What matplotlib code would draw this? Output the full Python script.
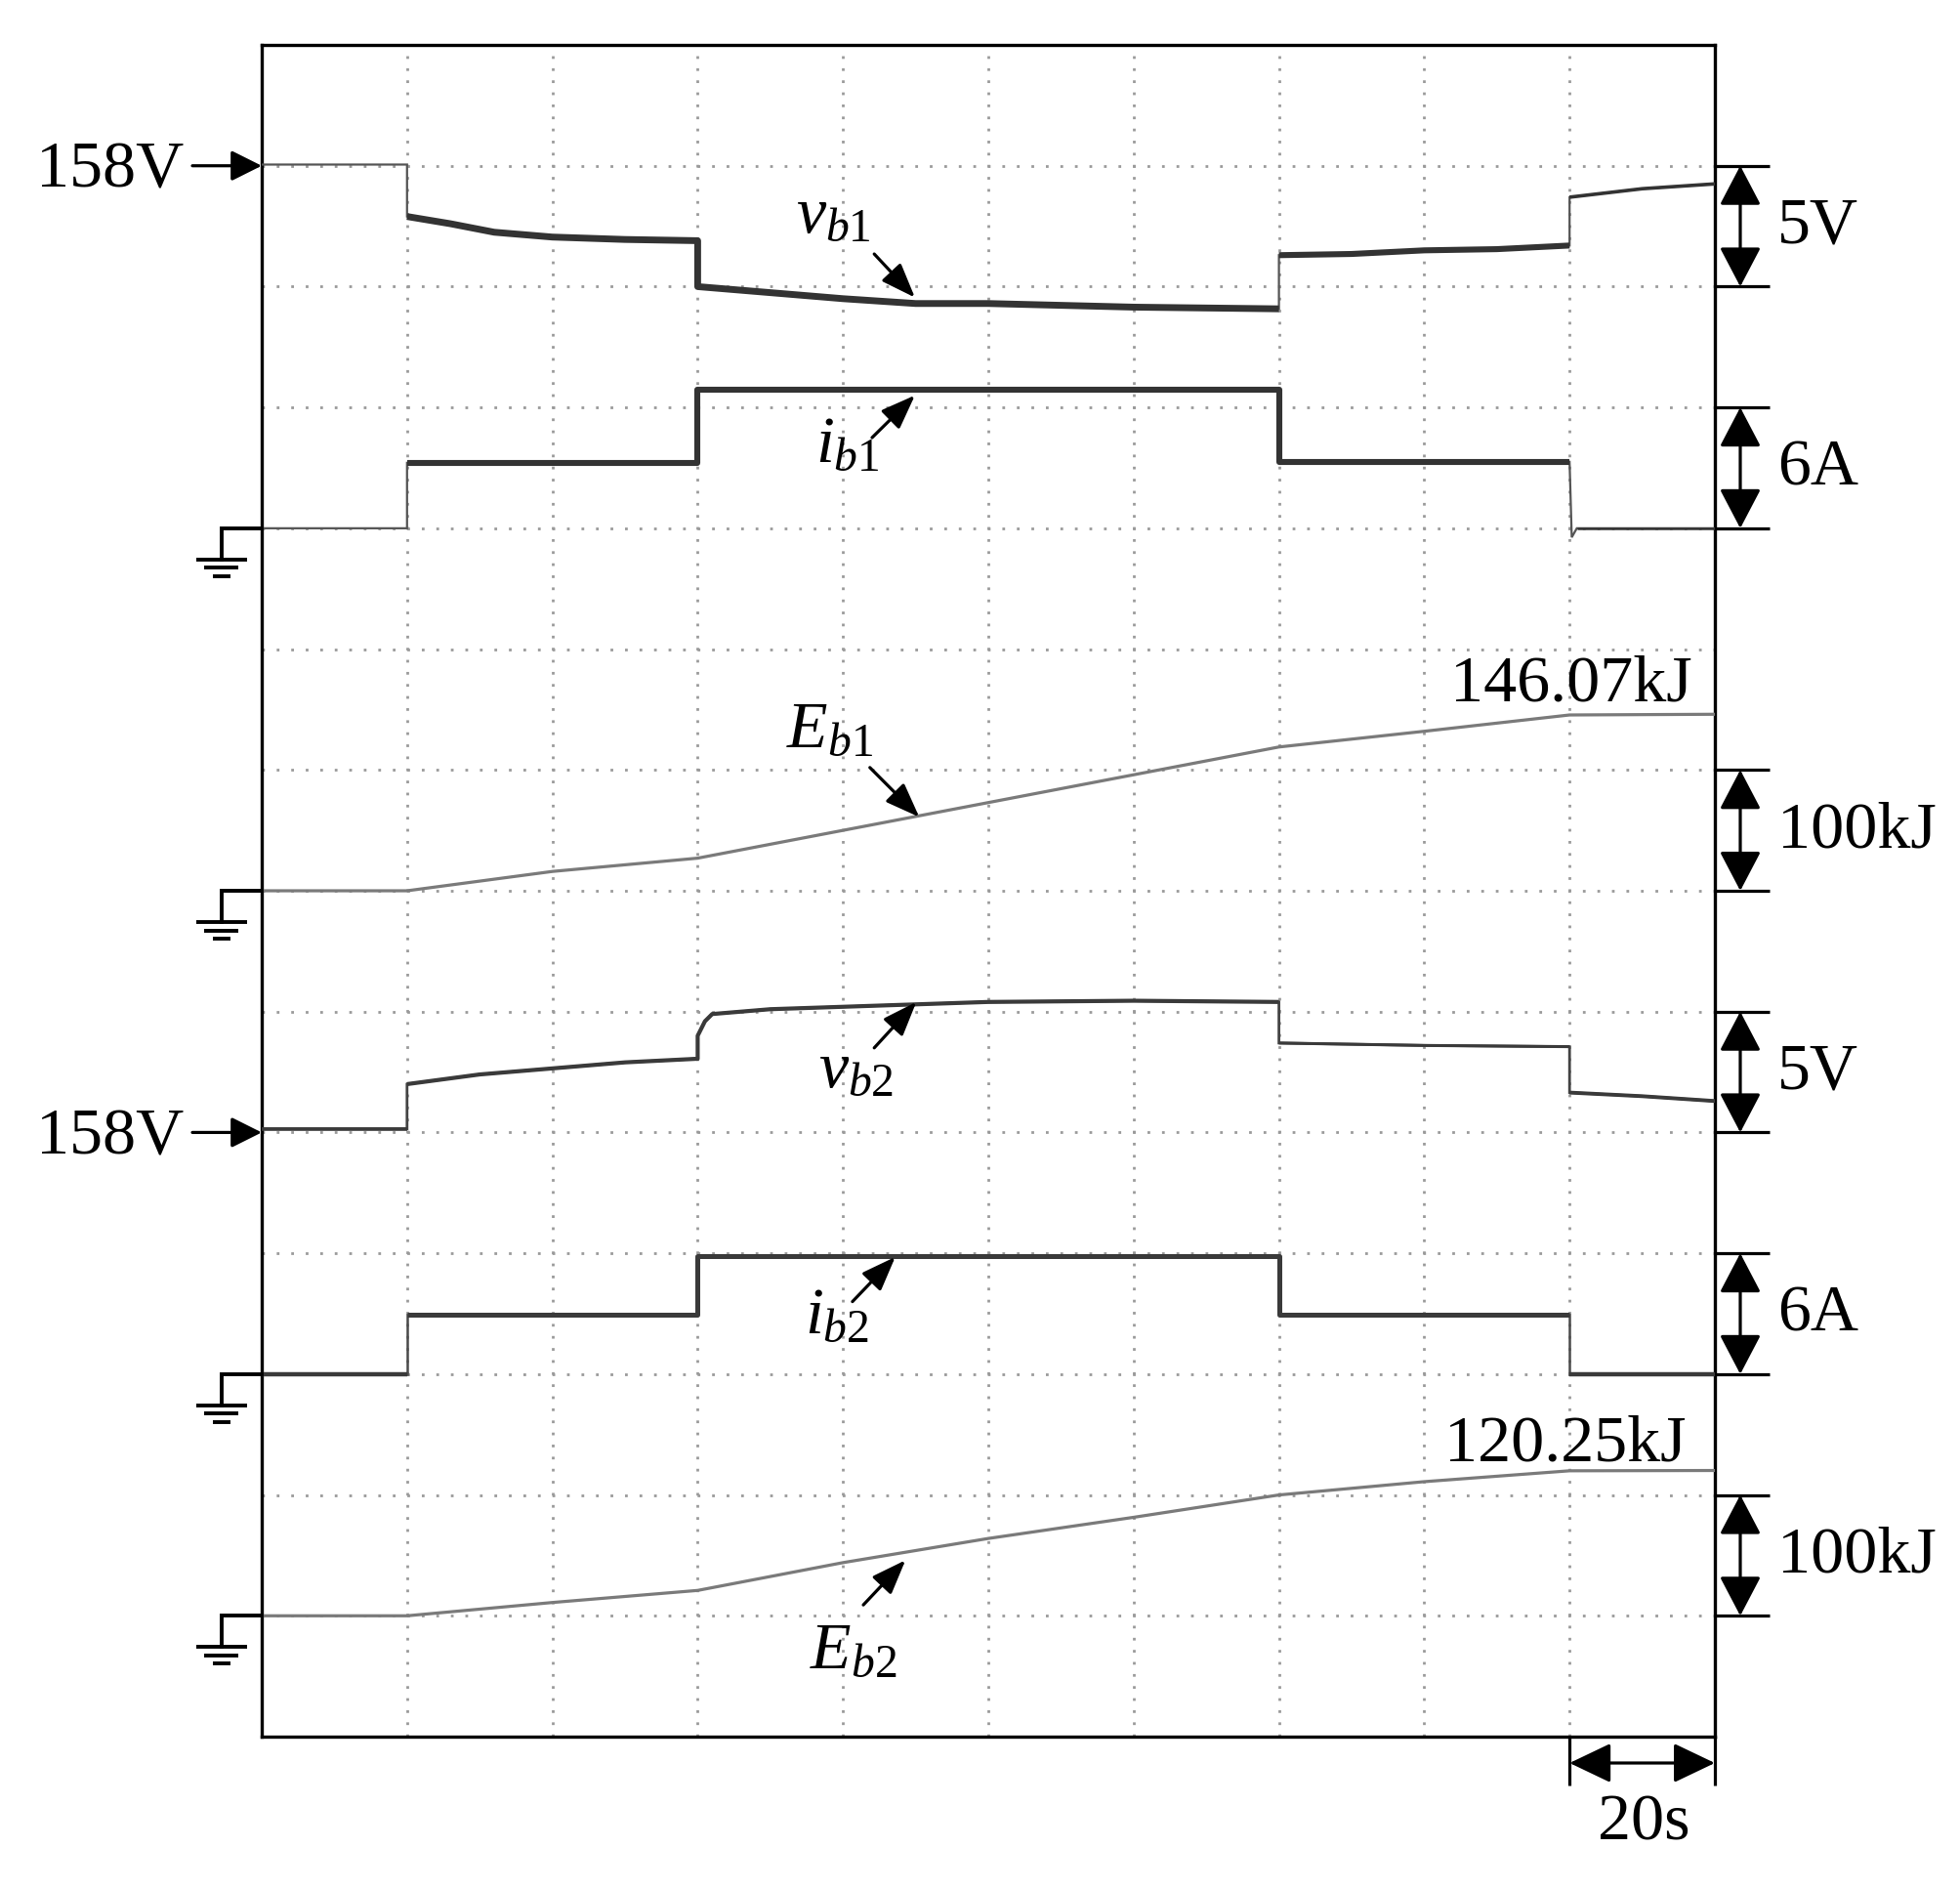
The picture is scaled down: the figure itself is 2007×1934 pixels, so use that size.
import numpy as np
import matplotlib
matplotlib.use('Agg')
import matplotlib.pyplot as plt

plt.rcParams['font.family'] = ['Liberation Serif', 'DejaVu Serif']
plt.rcParams['mathtext.fontset'] = 'custom'
plt.rcParams['mathtext.rm'] = 'Liberation Serif'
plt.rcParams['mathtext.it'] = 'Liberation Serif:italic'
plt.rcParams['lines.scale_dashes'] = False

# ---------------- data ----------------
# time in seconds, 20 s per division, 10 divisions
t_vb1 = [0, 20, 20, 26, 32, 40, 50, 60, 60, 70, 80, 90, 100, 120, 140, 140, 150, 160, 170, 180, 180, 190, 200]
vb1 = [158.05, 158.05, 155.9, 155.6, 155.25, 155.05, 154.95, 154.9, 153.0, 152.75, 152.5, 152.3,
       152.3, 152.15, 152.08, 154.3, 154.35, 154.5, 154.55, 154.7, 156.7, 157.05, 157.25]

t_ib1 = [0, 20, 20, 60, 60, 140, 140, 180, 180.3, 181, 200]
ib1 = [0.0, 0.0, 3.25, 3.25, 6.87, 6.87, 3.3, 3.3, -0.45, 0.0, 0.0]

t_Eb1 = [0, 20, 40, 60, 80, 100, 120, 140, 160, 180, 200]
Eb1 = [0.0, 0.0, 16.0, 27.0, 50.0, 73.0, 96.0, 119.0, 132.0, 145.5, 146.07]

t_vb2 = [0, 20, 20, 30, 40, 50, 60, 60, 61, 62, 70, 80, 100, 120, 140, 140, 160, 180, 180, 190, 200]
vb2 = [158.15, 158.15, 160.0, 160.4, 160.65, 160.9, 161.05, 162.0, 162.6, 162.9, 163.1, 163.2,
       163.4, 163.45, 163.4, 161.7, 161.6, 161.55, 159.65, 159.5, 159.3]

t_ib2 = [0, 20, 20, 60, 60, 140, 140, 180, 180, 200]
ib2 = [0.0, 0.0, 2.94, 2.94, 5.88, 5.88, 2.94, 2.94, 0.0, 0.0]

t_Eb2 = [0, 20, 40, 60, 80, 100, 120, 140, 160, 180, 200]
Eb2 = [0.0, 0.0, 11.0, 21.0, 44.0, 64.0, 81.5, 100.0, 111.0, 120.0, 120.25]

# channel placement: (grid position of reference, reference value, units per division)
ch_pos = {'vb1': 13, 'ib1': 10, 'Eb1': 7, 'vb2': 5, 'ib2': 3, 'Eb2': 1}
ch_ref = {'vb1': 158, 'ib1': 0, 'Eb1': 0, 'vb2': 158, 'ib2': 0, 'Eb2': 0}
ch_scale = {'vb1': 5, 'ib1': 6, 'Eb1': 100, 'vb2': 5, 'ib2': 6, 'Eb2': 100}

scale_labels = ['5V', '6A', '100kJ', '5V', '6A', '100kJ']
scale_low = [12, 10, 7, 5, 3, 1]
ref_arrow_levels = [13, 5]
ground_levels = [10, 7, 3, 1]
final_labels = [('146.07kJ', 'Eb1'), ('120.25kJ', 'Eb2')]

# ---------------- figure ----------------
W, H = 2008, 1934
fig = plt.figure(figsize=(W / 100, H / 100), dpi=100)
L, R, T, B = 268, 1756, 46, 1778
ax = fig.add_axes([L / W, 1 - B / H, (R - L) / W, (B - T) / H])
ax.set_xlim(0, 200)
ax.set_ylim(0, 14)
ax.set_xticks([])
ax.set_yticks([])
for s in ax.spines.values():
    s.set_linewidth(2.4)
    s.set_color('black')

sx = 200 / (R - L)   # data per pixel
sy = 14 / (B - T)

# grid
for k in range(1, 14):
    ax.axhline(k, color='#9a9a9a', lw=2.0, dashes=(2.0, 8.7), zorder=1)
for k in range(1, 10):
    ax.axvline(20 * k, color='#9a9a9a', lw=2.0, dashes=(2.0, 6.9), zorder=1)


def to_div(name, vals):
    return ch_pos[name] + (np.asarray(vals, float) - ch_ref[name]) / ch_scale[name]


def trace(name, t, v, base_lw, base_col, segs, seg_col):
    t = np.asarray(t, float)
    y = to_div(name, v)
    ax.plot(t, y, color=base_col, lw=base_lw, zorder=3, solid_joinstyle='miter')
    for t0, t1, lw in segs:
        idx = np.where((t >= t0) & (t <= t1))[0]
        if len(idx) >= 2 and t[idx[0]] == t[idx[1]]:
            idx = idx[1:]
        if len(idx) >= 2 and t[idx[-1]] == t[idx[-2]]:
            idx = idx[:-1]
        ax.plot(t[idx], y[idx], color=seg_col, lw=lw, zorder=4, solid_capstyle='butt')


trace('vb1', t_vb1, vb1, 1.6, '#555555', [(20, 140, 5.0), (140, 180, 4.4), (180, 200, 2.6)], '#333333')
trace('ib1', t_ib1, ib1, 1.6, '#555555', [(20, 180, 4.4), (180.9, 200, 1.8)], '#333333')
trace('Eb1', t_Eb1, Eb1, 2.3, '#7a7a7a', [], '#7a7a7a')
trace('vb2', t_vb2, vb2, 2.0, '#444444', [(0, 20, 2.6), (20, 140, 3.0), (140, 180, 2.2), (180, 200, 2.8)], '#3a3a3a')
trace('ib2', t_ib2, ib2, 1.8, '#4a4a4a', [(0, 20, 3.2), (20, 180, 3.6), (180, 200, 3.2)], '#3a3a3a')
trace('Eb2', t_Eb2, Eb2, 2.3, '#7a7a7a', [], '#7a7a7a')

FS = 49

# right-hand scale markers
x_tick_end = 200 + 56 * sx
x_arrow = 200 + 26 * sx
for lab, lo in zip(scale_labels, scale_low):
    for yy in (lo, lo + 1):
        ax.plot([200, x_tick_end], [yy, yy], color='black', lw=2.3, clip_on=False, zorder=5,
                solid_capstyle='butt')
    ax.annotate('', xy=(x_arrow, lo + 1), xytext=(x_arrow, lo), annotation_clip=False,
                arrowprops=dict(arrowstyle='<|-|>,head_length=0.42,head_width=0.22',
                                mutation_scale=60, color='black', lw=2.3, shrinkA=0, shrinkB=0))
    ax.text(200 + 64 * sx, lo + 0.36, lab, fontsize=FS, ha='left', va='baseline', clip_on=False)

# left-hand 158V reference arrows
for lev in ref_arrow_levels:
    ax.annotate('', xy=(0, lev), xytext=(-71 * sx, lev), annotation_clip=False,
                arrowprops=dict(arrowstyle='-|>,head_length=0.4,head_width=0.2',
                                mutation_scale=48, color='black', lw=2.3, shrinkA=0, shrinkB=0))
    ax.text(-80 * sx, lev - 0.18, '158V', fontsize=FS, ha='right', va='baseline', clip_on=False)

# ground symbols
gx = -41 * sx
for g in ground_levels:
    ax.plot([0, gx, gx], [g, g, g - 32 * sy], color='black', lw=2.8, clip_on=False,
            solid_joinstyle='miter', zorder=5)
    for off, hw in ((32, 26), (40.5, 17.5), (49, 9)):
        ax.plot([gx - hw * sx, gx + hw * sx], [g - off * sy] * 2, color='black', lw=2.8,
                clip_on=False, solid_capstyle='butt', zorder=5)

# 20 s time marker
x20 = 180
for xx in (x20, 200):
    ax.plot([xx, xx], [0, -50 * sy], color='black', lw=2.3, clip_on=False, solid_capstyle='butt')
ax.annotate('', xy=(200, -27 * sy), xytext=(x20, -27 * sy), annotation_clip=False,
            arrowprops=dict(arrowstyle='<|-|>,head_length=0.44,head_width=0.21',
                            mutation_scale=60, color='black', lw=2.3, shrinkA=0, shrinkB=0))
ax.text(190.2, -105 * sy, '20s', fontsize=FS, ha='center', va='baseline', clip_on=False)

# final energy values
ax.text(196.9, to_div('Eb1', Eb1[-1]) + 14 * sy, final_labels[0][0], fontsize=FS, ha='right',
        va='baseline', clip_on=False)
ax.text(196.1, to_div('Eb2', Eb2[-1]) + 10 * sy, final_labels[1][0], fontsize=FS, ha='right',
        va='baseline', clip_on=False)

# trace labels with arrows: (text, text x, baseline y, arrow start, arrow tip)
labels = [
    (r'$v_{b\mathrm{1}}$', 73.5, 12.45, (84.3, 12.27), (89.9, 11.91)),
    (r'$i_{b\mathrm{1}}$', 76.2, 10.55, (84.0, 10.75), (89.9, 11.10)),
    (r'$E_{b\mathrm{1}}$', 72.2, 8.19, (83.7, 8.02), (90.5, 7.61)),
    (r'$v_{b\mathrm{2}}$', 76.6, 5.38, (84.3, 5.70), (90.1, 6.08)),
    (r'$i_{b\mathrm{2}}$', 74.7, 3.34, (81.3, 3.60), (87.2, 3.97)),
    (r'$E_{b\mathrm{2}}$', 75.4, 0.57, (82.8, 1.09), (88.6, 1.46)),
]
for txt, x, y, a0, a1 in labels:
    ax.text(x, y, txt, fontsize=FS, ha='left', va='baseline', zorder=6)
    ax.annotate('', xy=a1, xytext=a0,
                arrowprops=dict(arrowstyle='-|>,head_length=0.45,head_width=0.17',
                                mutation_scale=48, color='black', lw=2.3, shrinkA=0, shrinkB=0),
                zorder=6)

fig.savefig('out.png', dpi=100, facecolor='white')
